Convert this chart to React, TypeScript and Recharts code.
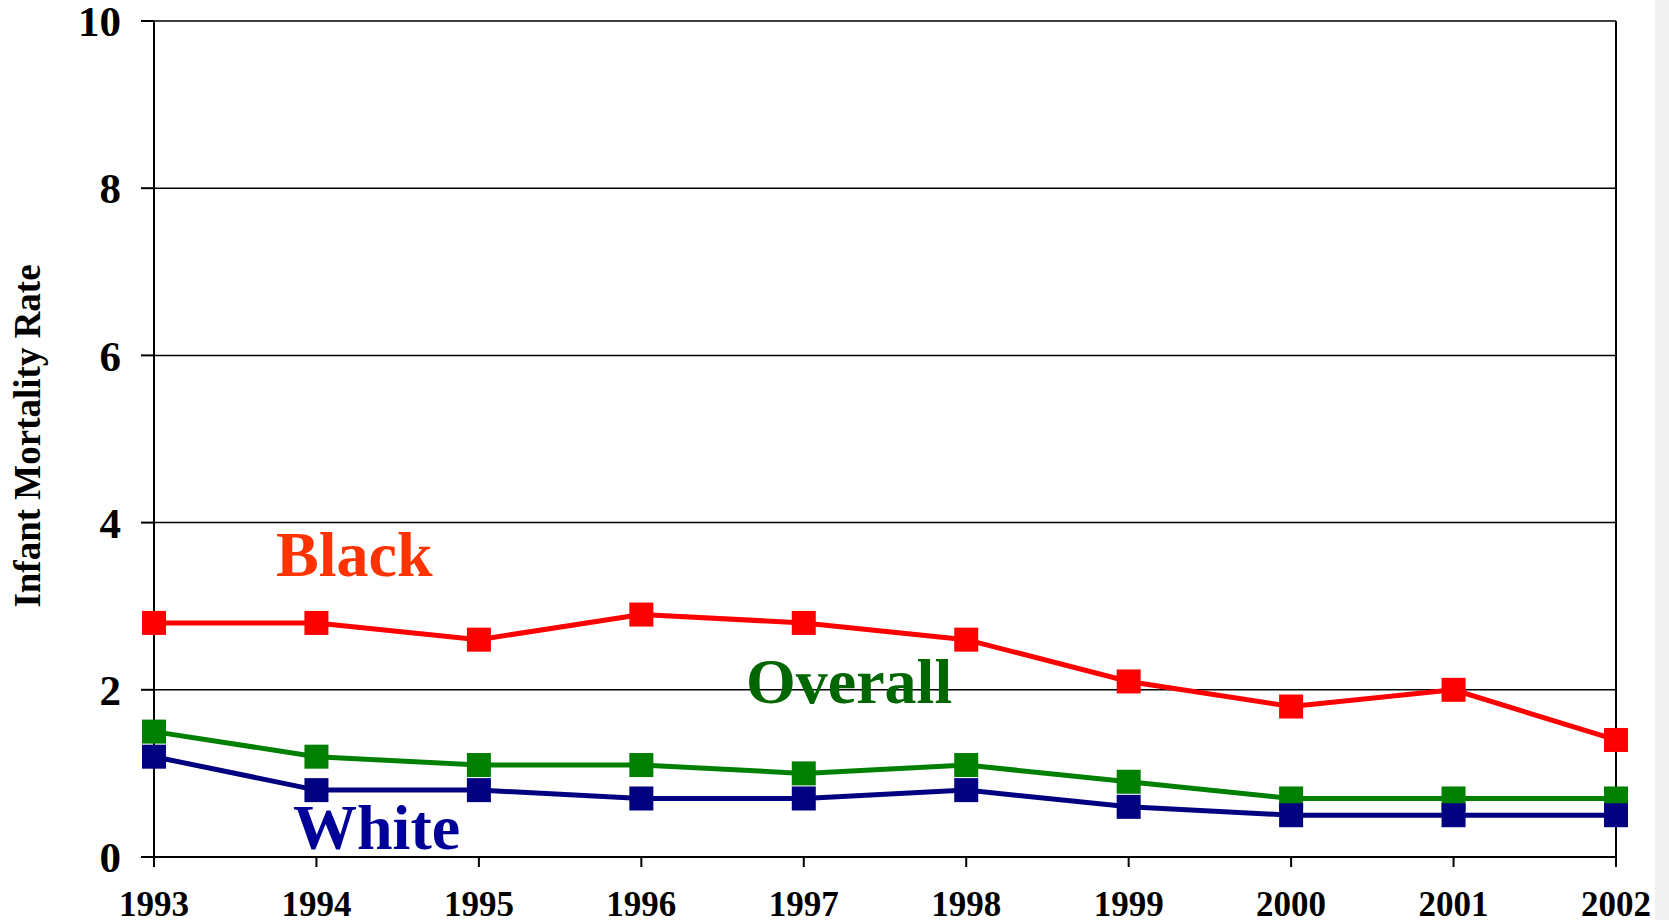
import React from "react";
import {
  LineChart,
  Line,
  XAxis,
  YAxis,
  CartesianGrid,
  ReferenceLine,
} from "recharts";

const years = ["1993", "1994", "1995", "1996", "1997", "1998", "1999", "2000", "2001", "2002"];
const blackRates = [2.8, 2.8, 2.6, 2.9, 2.8, 2.6, 2.1, 1.8, 2.0, 1.4];
const overallRates = [1.5, 1.2, 1.1, 1.1, 1.0, 1.1, 0.9, 0.7, 0.7, 0.7];
const whiteRates = [1.2, 0.8, 0.8, 0.7, 0.7, 0.8, 0.6, 0.5, 0.5, 0.5];
const yTicks = [0, 2, 4, 6, 8, 10];

const data = years.map((year, i) => ({
  year,
  black: blackRates[i],
  overall: overallRates[i],
  white: whiteRates[i],
}));

const FONT = "'Liberation Serif', 'Times New Roman', serif";

const SquareDot = (color: string) => (props: any) => {
  const { cx, cy, index } = props;
  if (cx == null || cy == null) return null;
  const s = 24;
  return <rect key={`sq-${color}-${index}`} x={cx - s / 2} y={cy - s / 2} width={s} height={s} fill={color} />;
};

export default function App() {
  return (
    <div style={{ position: "absolute", left: 0, top: 0, width: 1669, height: 920, background: "#fff" }}>
      <LineChart
        width={1669}
        height={920}
        data={data}
        margin={{ top: 21, right: 53, bottom: 0, left: 0 }}
      >
        <CartesianGrid horizontal vertical={false} stroke="#000" strokeWidth={1.5} />
        <XAxis
          dataKey="year"
          height={63}
          axisLine={{ stroke: "#000", strokeWidth: 2 }}
          tickLine={{ stroke: "#000", strokeWidth: 2 }}
          tickSize={10}
          tickMargin={24}
          interval={0}
          tick={{ fill: "#000", fontSize: 35, fontWeight: "bold", fontFamily: FONT }}
        />
        <YAxis
          width={154}
          domain={[0, 10]}
          ticks={yTicks}
          interval={0}
          axisLine={{ stroke: "#000", strokeWidth: 2 }}
          tickLine={{ stroke: "#000", strokeWidth: 2 }}
          tickSize={13}
          tickMargin={20}
          tick={{ fill: "#000", fontSize: 43, fontWeight: "bold", fontFamily: FONT }}
        />
        <ReferenceLine x="2002" stroke="#000" strokeWidth={2} />
        <Line
          dataKey="black"
          stroke="#FF0000"
          strokeWidth={5}
          dot={SquareDot("#FF0000")}
          activeDot={false}
          isAnimationActive={false}
        />
        <Line
          dataKey="overall"
          stroke="#008000"
          strokeWidth={5}
          dot={SquareDot("#008000")}
          activeDot={false}
          isAnimationActive={false}
        />
        <Line
          dataKey="white"
          stroke="#000080"
          strokeWidth={5}
          dot={SquareDot("#000080")}
          activeDot={false}
          isAnimationActive={false}
        />
      </LineChart>
      <svg
        width={1669}
        height={920}
        style={{ position: "absolute", left: 0, top: 0, pointerEvents: "none" }}
      >
        <text
          x={40}
          y={436}
          transform="rotate(-90 40 436)"
          textAnchor="middle"
          fontFamily={FONT}
          fontWeight="bold"
          fontSize={37}
          fill="#000"
        >
          Infant Mortality Rate
        </text>
        <text x={276} y={576} fontFamily={FONT} fontWeight="bold" fontSize={64} fill="#FF3300">
          Black
        </text>
        <text x={746} y={703} fontFamily={FONT} fontWeight="bold" fontSize={64} fill="#006600">
          Overall
        </text>
        <text x={293} y={849} fontFamily={FONT} fontWeight="bold" fontSize={64} fill="#000099">
          White
        </text>
      </svg>
      <div style={{ position: "absolute", left: 1655, top: 0, width: 14, height: 920, background: "#f1f1f1" }} />
    </div>
  );
}
